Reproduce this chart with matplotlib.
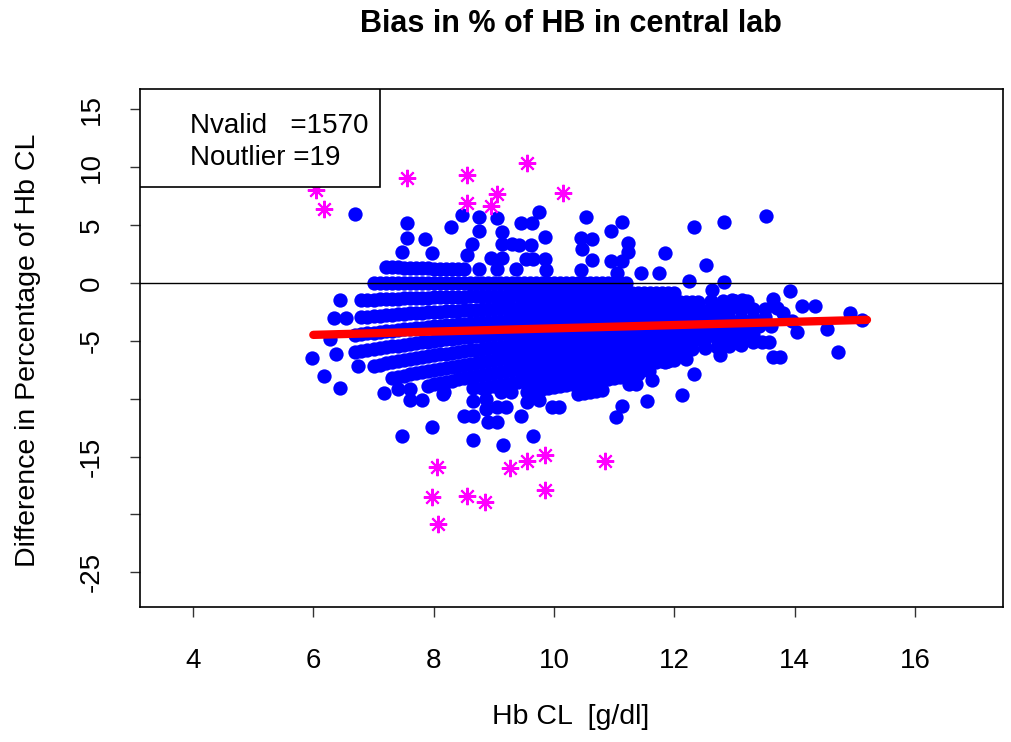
import matplotlib
matplotlib.use('Agg')
import numpy as np
import matplotlib.pyplot as plt
from matplotlib.patches import Rectangle

plt.rcParams['font.family'] = ['Liberation Sans', 'DejaVu Sans']

# dense core: Hb CL values grouped by their difference (g/dl, 0.1 resolution)
band_diff = [0.1, 0.0, -0.1, -0.2, -0.3, -0.4, -0.5, -0.6, -0.7, -0.8, -0.9, -1.0]
band_hb = [
    [7.2, 7.3, 7.4, 7.5, 7.6, 7.7, 7.8, 7.9, 8.0, 8.1, 8.2, 8.3, 8.4, 8.5],
    [7.0, 7.1, 7.2, 7.3, 7.4, 7.5, 7.6, 7.7, 7.8, 7.9,
     8.0, 8.1, 8.2, 8.3, 8.4, 8.5, 8.6, 8.7, 8.8, 8.9,
     9.0, 9.1, 9.2, 9.3, 9.4, 9.5, 9.6, 9.7, 9.8, 9.9,
     10.0, 10.1, 10.2, 10.3, 10.4, 10.5, 10.6, 10.7, 10.8, 10.9,
     11.0, 11.1, 11.2],
    [6.8, 6.9, 7.0, 7.1, 7.2, 7.3, 7.4, 7.5, 7.6, 7.7, 7.8, 7.9,
     8.0, 8.1, 8.2, 8.3, 8.4, 8.5, 8.6, 8.7, 8.8, 8.9,
     9.0, 9.1, 9.2, 9.3, 9.4, 9.5, 9.6, 9.7, 9.8, 9.9,
     10.0, 10.1, 10.2, 10.3, 10.4, 10.5, 10.6, 10.7, 10.8, 10.9,
     11.0, 11.1, 11.2, 11.3, 11.4, 11.5, 11.6, 11.7, 11.8, 11.9, 12.0],
    [6.8, 6.9, 7.0, 7.1, 7.2, 7.3, 7.4, 7.5, 7.6, 7.7, 7.8, 7.9,
     8.0, 8.1, 8.2, 8.3, 8.4, 8.5, 8.6, 8.7, 8.8, 8.9,
     9.0, 9.1, 9.2, 9.3, 9.4, 9.5, 9.6, 9.7, 9.8, 9.9,
     10.0, 10.1, 10.2, 10.3, 10.4, 10.5, 10.6, 10.7, 10.8, 10.9,
     11.0, 11.1, 11.2, 11.3, 11.4, 11.5, 11.6, 11.7, 11.8, 11.9,
     12.0, 12.1, 12.2, 12.3, 12.4, 12.6, 12.8, 13.0, 13.2],
    [6.7, 6.8, 6.9, 7.0, 7.1, 7.2, 7.3, 7.4, 7.5, 7.6, 7.7, 7.8, 7.9,
     8.0, 8.1, 8.2, 8.3, 8.4, 8.5, 8.6, 8.7, 8.8, 8.9,
     9.0, 9.1, 9.2, 9.3, 9.4, 9.5, 9.6, 9.7, 9.8, 9.9,
     10.0, 10.1, 10.2, 10.3, 10.4, 10.5, 10.6, 10.7, 10.8, 10.9,
     11.0, 11.1, 11.2, 11.3, 11.4, 11.5, 11.6, 11.7, 11.8, 11.9,
     12.0, 12.1, 12.2, 12.3, 12.4, 12.5, 12.6, 12.7, 12.8, 12.9,
     13.1, 13.3, 13.5, 13.7],
    [6.7, 6.8, 6.9, 7.0, 7.1, 7.2, 7.3, 7.4, 7.5, 7.6, 7.7, 7.8, 7.9,
     8.0, 8.1, 8.2, 8.3, 8.4, 8.5, 8.6, 8.7, 8.8, 8.9,
     9.0, 9.1, 9.2, 9.3, 9.4, 9.5, 9.6, 9.7, 9.8, 9.9,
     10.0, 10.1, 10.2, 10.3, 10.4, 10.5, 10.6, 10.7, 10.8, 10.9,
     11.0, 11.1, 11.2, 11.3, 11.4, 11.5, 11.6, 11.7, 11.8, 11.9,
     12.0, 12.1, 12.2, 12.3, 12.4, 12.5, 12.6, 12.7, 12.8, 12.9,
     13.1, 13.3, 13.5],
    [7.0, 7.1, 7.2, 7.3, 7.4, 7.5, 7.6, 7.7, 7.8, 7.9,
     8.0, 8.1, 8.2, 8.3, 8.4, 8.5, 8.6, 8.7, 8.8, 8.9,
     9.0, 9.1, 9.2, 9.3, 9.4, 9.5, 9.6, 9.7, 9.8, 9.9,
     10.0, 10.1, 10.2, 10.3, 10.4, 10.5, 10.6, 10.7, 10.8, 10.9,
     11.0, 11.1, 11.2, 11.3, 11.4, 11.5, 11.6, 11.7, 11.8, 11.9,
     12.0, 12.1, 12.2, 12.3, 12.4, 12.5, 12.6, 12.7, 12.8, 12.9,
     13.0, 13.2, 13.4, 13.6],
    [7.3, 7.4, 7.5, 7.6, 7.7, 7.8, 7.9,
     8.0, 8.1, 8.2, 8.3, 8.4, 8.5, 8.6, 8.7, 8.8, 8.9,
     9.0, 9.1, 9.2, 9.3, 9.4, 9.5, 9.6, 9.7, 9.8, 9.9,
     10.0, 10.1, 10.2, 10.3, 10.4, 10.5, 10.6, 10.7, 10.8, 10.9,
     11.0, 11.1, 11.2, 11.3, 11.4, 11.5, 11.6, 11.7, 11.8, 11.9,
     12.0, 12.1, 12.2, 12.3, 12.4, 12.5, 12.7, 12.9, 13.1, 13.3],
    [7.9, 8.0, 8.1, 8.2, 8.3, 8.4, 8.5, 8.6, 8.7, 8.8, 8.9,
     9.0, 9.1, 9.2, 9.3, 9.4, 9.5, 9.6, 9.7, 9.8, 9.9,
     10.0, 10.1, 10.2, 10.3, 10.4, 10.5, 10.6, 10.7, 10.8, 10.9,
     11.0, 11.1, 11.2, 11.3, 11.4, 11.5, 11.6, 11.7, 11.8, 11.9,
     12.0, 12.1, 12.2, 12.3, 12.5, 12.7, 12.9, 13.1],
    [8.8, 8.9, 9.0, 9.1, 9.2, 9.3, 9.4, 9.5, 9.6, 9.7, 9.8, 9.9,
     10.0, 10.1, 10.2, 10.3, 10.4, 10.5, 10.6, 10.7, 10.8, 10.9,
     11.0, 11.1, 11.2, 11.3, 11.4, 11.5, 11.6, 11.7, 11.8, 11.9,
     12.0, 12.2],
    [9.6, 9.7, 9.8, 9.9, 10.0, 10.1, 10.2, 10.3, 10.4, 10.5, 10.6, 10.7,
     10.8, 10.9, 11.0, 11.1, 11.2, 11.4],
    [10.4, 10.5, 10.6, 10.7, 10.8],
]

# scattered valid points around the core (Hb CL, % difference)
sparse_hb = [6.7, 7.55, 7.55, 7.85, 7.47, 7.97, 8.28, 8.47, 8.75, 8.75, 9.05,
             8.63, 8.55, 9.13, 9.13, 9.3, 8.95, 9.13, 9.45, 9.63, 9.75, 9.85,
             9.42, 9.62, 9.53, 9.65, 9.85, 9.87, 8.75, 9.05, 9.37, 10.53, 10.45,
             10.63, 10.47, 10.63, 10.45, 11.13, 10.95, 11.23, 11.23, 10.95,
             11.13, 11.05, 11.45, 11.75, 11.85, 12.33, 12.83, 13.53, 12.53,
             12.25, 12.83, 12.63,
             6.27, 6.35, 6.55, 6.45, 6.37, 5.97, 6.17, 6.45, 6.75,
             12.95, 13.13, 13.63, 13.92, 14.12, 14.33, 14.92, 15.12, 14.53,
             14.03, 14.72, 13.63, 13.75, 13.3, 13.45, 13.58, 12.9, 13.05, 12.75,
             13.8, 13.95,
             7.17, 7.4, 7.6, 7.6, 7.8, 8.15, 7.47, 7.97, 8.65, 8.65, 8.87, 8.5,
             8.65, 8.87, 8.9, 9.05, 9.05, 9.2, 9.12, 9.28, 8.65, 9.15, 9.45,
             9.65, 9.55, 9.55, 9.75, 9.97, 10.08, 10.47, 10.83, 11.25, 11.37,
             11.63, 11.58, 12.33, 11.13, 11.03, 11.55, 12.13, 11.85, 10.5,
             10.6, 8.17]
sparse_pct = [6.0, 5.2, 3.9, 3.8, 2.66, 2.6, 4.8, 5.9, 5.7, 4.5, 5.6,
              3.4, 2.4, 4.4, 3.35, 3.35, 2.2, 2.2, 5.2, 5.2, 6.1, 4.0,
              3.3, 3.3, 2.1, 2.1, 2.1, 1.1, 1.2, 1.2, 1.2, 5.7, 3.9,
              3.8, 2.9, 2.0, 1.1, 5.3, 4.5, 3.5, 2.7, 1.9,
              1.9, 0.9, 0.9, 0.9, 2.6, 4.8, 5.3, 5.8, 1.6,
              0.2, 0.1, -0.6,
              -4.8, -3.0, -3.0, -1.5, -6.1, -6.5, -8.0, -9.1, -7.2,
              -1.5, -1.5, -1.4, -0.7, -2.0, -2.0, -2.6, -3.2, -4.0,
              -4.2, -6.0, -6.4, -6.4, -5.1, -5.1, -5.1, -5.2, -5.2, -6.2,
              -2.6, -3.3,
              -9.5, -9.2, -9.2, -10.1, -10.1, -9.6, -13.2, -12.4, -9.1, -10.2, -10.0, -11.5,
              -11.5, -10.9, -12.0, -12.0, -10.7, -10.7, -9.4, -9.4, -13.6, -14.0, -11.5,
              -13.2, -9.4, -10.3, -10.1, -10.7, -10.7, -9.4, -7.2, -8.7, -8.7,
              -8.4, -7.6, -7.9, -10.6, -11.6, -10.2, -9.7, -6.8, -8.3,
              -9.2, -9.4]

# outliers
out_hb = [6.05, 6.17, 7.55, 8.55, 8.55, 8.95, 9.05, 9.55, 10.15,
          8.05, 7.97, 8.07, 8.55, 8.85, 9.27, 9.55, 9.85, 9.85, 10.85]
out_pct = [8.0, 6.4, 9.1, 9.3, 6.95, 6.7, 7.7, 10.4, 7.8,
           -15.9, -18.5, -20.8, -18.4, -18.9, -16.0, -15.4, -14.9, -17.9, -15.4]

# regression line
fit_hb = [6.0, 15.2]
fit_pct = [-4.48, -3.18]

xticks = [4, 6, 8, 10, 12, 14, 16]
yticks = [15, 10, 5, 0, -5, -10, -15, -20, -25]
ylabels = ['15', '10', '5', '0', '-5', '', '-15', '', '-25']

band_x = []
band_y = []
for d, hbs in zip(band_diff, band_hb):
    for h in hbs:
        band_x.append(h)
        band_y.append(100 * d / h)

fig = plt.figure(figsize=(10.11, 7.42), dpi=100)
ax = fig.add_axes([140 / 1011, 1 - 607 / 742, 863 / 1011, 518 / 742])

ax.plot(band_x + sparse_hb, band_y + sparse_pct, linestyle='none', marker='o',
        markersize=10.3, color='#0000FF', mew=0, zorder=2)
ax.axhline(0, color='black', lw=1.0, zorder=3)
ax.plot(fit_hb, fit_pct, color='#FF0000', lw=6, solid_capstyle='round', zorder=4)
ax.plot(out_hb, out_pct, linestyle='none', marker=(8, 2, 0), markersize=12.5,
        color='#FF00FF', mew=1.5, zorder=4)

ax.set_xlim(3.12, 17.46)
ax.set_ylim(-28.0, 16.77)
ax.set_xticks(xticks)
ax.set_xticklabels([str(t) for t in xticks], fontsize=20)
ax.set_yticks(yticks)
ax.set_yticklabels(ylabels, fontsize=20, rotation=90, va='center')
ax.tick_params(axis='both', length=7.5, width=1.0, color='#333333')
ax.tick_params(axis='x', pad=22)
ax.tick_params(axis='y', pad=18)
for s in ax.spines.values():
    s.set_linewidth(1.2)

# legend box
ax.add_patch(Rectangle((0, 0.811), 0.278, 0.189, transform=ax.transAxes,
                       facecolor='white', edgecolor='black', lw=1.2, zorder=5))
ax.text(0.058, 0.915, 'Nvalid   =1570', transform=ax.transAxes, fontsize=20,
        va='baseline', zorder=6)
ax.text(0.058, 0.853, 'Noutlier =19', transform=ax.transAxes, fontsize=20,
        va='baseline', zorder=6)

fig.text(571 / 1011, 1 - 24 / 742, 'Bias in % of HB in central lab',
         fontsize=22, fontweight='bold', ha='center', va='center')
fig.text(571 / 1011, 1 - 717 / 742, 'Hb CL  [g/dl]', fontsize=20.5,
         ha='center', va='center')
fig.text(28 / 1011, 1 - 350 / 742, 'Difference in Percentage of Hb CL',
         fontsize=20.5, rotation=90, ha='center', va='center')

fig.savefig('out.png', dpi=100)
